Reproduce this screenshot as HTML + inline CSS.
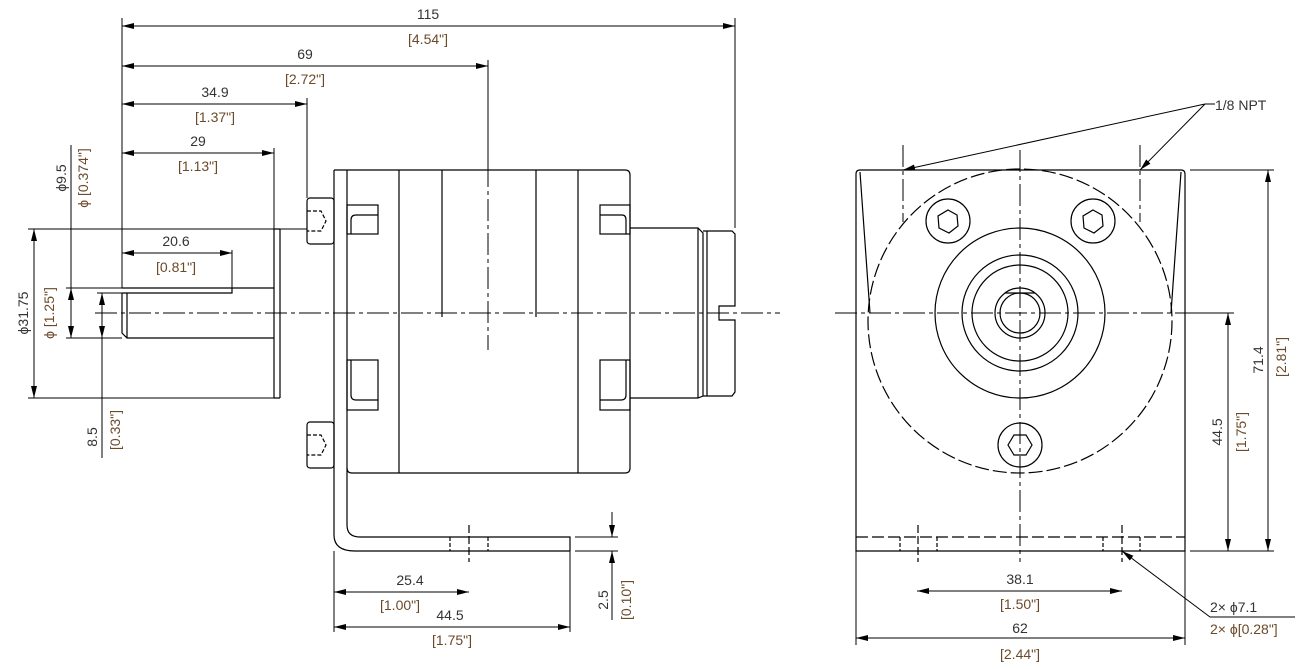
<!DOCTYPE html>
<html><head><style>
html,body{margin:0;padding:0;background:#fff;}
svg{display:block;}
text{font-family:"Liberation Sans",sans-serif;font-size:14px;fill:#333;}
.b{fill:#6b4a2a;}
</style></head><body>
<svg width="1313" height="669" viewBox="0 0 1313 669" xmlns="http://www.w3.org/2000/svg">
<defs>
<marker id="a" viewBox="0 0 12 6" refX="12" refY="3" markerWidth="12" markerHeight="6" orient="auto-start-reverse" markerUnits="userSpaceOnUse"><path d="M0,0 L12,3 L0,6z" fill="#000"/></marker>
</defs>
<g fill="none" stroke="#000" stroke-width="1.2">
<!-- center lines -->
<g stroke-dasharray="22,4,4,4" stroke-width="1">
<line x1="95" y1="313" x2="780" y2="313"/>
<line x1="488" y1="165" x2="488" y2="350"/>
<line x1="835" y1="313" x2="1205" y2="313"/>
<line x1="1020" y1="150" x2="1020" y2="562"/>
<line x1="903" y1="145" x2="903" y2="222"/>
<line x1="1140" y1="145" x2="1140" y2="222"/>
</g>
<!-- shaft + flange -->
<path d="M274,229 L274,398 M280,229 L280,398 M274,229 L280,229 M274,398 L280,398"/>
<path d="M122,293 L122,333 L127,338 L274,338 M122,288 L274,288 M127,293 L127,338"/>
<path d="M122,293 L232,293 L232,288"/>
<!-- screws -->
<rect x="307" y="198" width="27" height="46" rx="3"/>
<rect x="307" y="422" width="27" height="46" rx="3"/>
<path d="M307,211 h14 l5,10 l-5,10 h-14" stroke-dasharray="4,2"/>
<path d="M307,435 h14 l5,10 l-5,10 h-14" stroke-dasharray="4,2"/>
<!-- plate / bracket -->
<path d="M334,170 L347,170 M334,170 L334,535 Q334,551 355,551 L570,551"/>
<path d="M347,170 L347,525 Q347,537 360,537 L570,537 L570,551"/>
<line x1="450" y1="537" x2="450" y2="551" stroke-dasharray="4,2"/>
<line x1="488" y1="537" x2="488" y2="551" stroke-dasharray="4,2"/>
<line x1="469" y1="525" x2="469" y2="562" stroke-dasharray="8,3"/>
<!-- body -->
<path d="M347,170 L625,170 Q630,170 630,175 L630,468 Q630,473 625,473 L352,473 Q347,473 347,468"/>
<line x1="399" y1="170" x2="399" y2="473"/>
<line x1="442" y1="170" x2="442" y2="317"/>
<line x1="536" y1="170" x2="536" y2="317"/>
<line x1="578" y1="170" x2="578" y2="473"/>
<!-- pockets -->
<rect x="347" y="205" width="31" height="29"/>
<path d="M347,215 h-0 M351,234 V220 Q351,215 356,215 H378"/>
<rect x="347" y="360" width="31" height="50"/>
<path d="M351,360 V395 Q351,400 356,400 H378"/>
<rect x="600" y="205" width="30" height="29"/>
<path d="M600,215 H622 Q626,215 626,220 V234"/>
<rect x="600" y="360" width="30" height="50"/>
<path d="M626,360 V395 Q626,400 621,400 H600"/>
<!-- nozzle -->
<path d="M630,228 H698 L703,233 V396 L698,398 H630 M698,228 V398"/>
<path d="M703,231 H732 L735,234 V306 H719 V320 H735 V392 L732,396 H703 M707,231 V396"/>
<!-- right view -->
<path d="M856,551 V174 Q856,170 860,170 H1181 Q1185,170 1185,174 V551 Z"/>
<line x1="856" y1="537" x2="1185" y2="537" stroke-dasharray="12,4"/>
<g stroke-dasharray="4,2"><line x1="900" y1="537" x2="900" y2="551"/><line x1="937" y1="537" x2="937" y2="551"/><line x1="1103" y1="537" x2="1103" y2="551"/><line x1="1140" y1="537" x2="1140" y2="551"/></g>
<line x1="918" y1="525" x2="918" y2="562" stroke-dasharray="8,3"/>
<line x1="1122" y1="525" x2="1122" y2="562" stroke-dasharray="8,3"/>
<ellipse cx="1020" cy="321" rx="152" ry="152" stroke-dasharray="14,4"/>
<path d="M860,172 L870,313 M1181,172 L1171,313"/>
<circle cx="1020" cy="313" r="85"/>
<circle cx="1020" cy="313" r="58"/>
<circle cx="1020" cy="313" r="48"/>
<circle cx="1020" cy="313" r="25"/>
<circle cx="1020" cy="313" r="20"/>
<line x1="1005" y1="293" x2="1035" y2="293"/>
<circle cx="948" cy="221" r="22"/><circle cx="1093" cy="221" r="22"/><circle cx="1020" cy="445" r="22"/>
<polygon points="948,210 957,215 958,226 949,233 939,228 938,216"/>
<polygon points="1093,210 1102,215 1103,226 1094,233 1084,228 1083,216"/>
<polygon points="1014,435 1026,435 1032,445 1026,455 1014,455 1008,445"/>
</g>
<!-- dimensions -->
<g fill="none" stroke="#000" stroke-width="1">
<line x1="122" y1="18" x2="122" y2="288"/>
<line x1="735" y1="18" x2="735" y2="228"/>
<line x1="122" y1="26" x2="735" y2="26" marker-start="url(#a)" marker-end="url(#a)"/>
<line x1="488" y1="60" x2="488" y2="165"/>
<line x1="122" y1="66" x2="488" y2="66" marker-start="url(#a)" marker-end="url(#a)"/>
<line x1="307" y1="98" x2="307" y2="198"/>
<line x1="122" y1="104" x2="307" y2="104" marker-start="url(#a)" marker-end="url(#a)"/>
<line x1="274" y1="148" x2="274" y2="229"/>
<line x1="122" y1="153" x2="274" y2="153" marker-start="url(#a)" marker-end="url(#a)"/>
<line x1="232" y1="250" x2="232" y2="288"/>
<line x1="122" y1="253" x2="232" y2="253" marker-start="url(#a)" marker-end="url(#a)"/>
<line x1="28" y1="229" x2="307" y2="229"/>
<line x1="28" y1="398" x2="274" y2="398"/>
<line x1="34" y1="229" x2="34" y2="398" marker-start="url(#a)" marker-end="url(#a)"/>
<line x1="71" y1="145" x2="71" y2="338"/>
<line x1="66" y1="288" x2="122" y2="288"/>
<line x1="66" y1="338" x2="122" y2="338"/>
<line x1="71" y1="288" x2="71" y2="338" marker-start="url(#a)" marker-end="url(#a)"/>
<line x1="97" y1="293" x2="122" y2="293"/>
<line x1="102" y1="293" x2="102" y2="338" marker-start="url(#a)" marker-end="url(#a)"/>
<line x1="102" y1="338" x2="102" y2="458"/>
<line x1="334" y1="551" x2="334" y2="632"/>
<line x1="570" y1="551" x2="570" y2="632"/>
<line x1="334" y1="592" x2="469" y2="592" marker-start="url(#a)" marker-end="url(#a)"/>
<line x1="334" y1="627" x2="570" y2="627" marker-start="url(#a)" marker-end="url(#a)"/>
<line x1="575" y1="537" x2="618" y2="537"/>
<line x1="575" y1="551" x2="618" y2="551"/>
<line x1="612" y1="512" x2="612" y2="537" marker-end="url(#a)"/>
<line x1="612" y1="576" x2="612" y2="551" marker-end="url(#a)"/>
<line x1="612" y1="551" x2="612" y2="620"/>
<line x1="917" y1="591" x2="1122" y2="591" marker-start="url(#a)" marker-end="url(#a)"/>
<line x1="856" y1="551" x2="856" y2="645"/>
<line x1="1185" y1="551" x2="1185" y2="645"/>
<line x1="856" y1="638" x2="1185" y2="638" marker-start="url(#a)" marker-end="url(#a)"/>
<line x1="1190" y1="170" x2="1274" y2="170"/>
<line x1="1190" y1="551" x2="1274" y2="551"/>
<line x1="1268" y1="170" x2="1268" y2="551" marker-start="url(#a)" marker-end="url(#a)"/>
<line x1="1175" y1="313" x2="1234" y2="313"/>
<line x1="1228" y1="313" x2="1228" y2="551" marker-start="url(#a)" marker-end="url(#a)"/>
<line x1="1205" y1="104" x2="903" y2="170" marker-end="url(#a)"/>
<line x1="1205" y1="104" x2="1140" y2="170" marker-end="url(#a)"/>
<line x1="1205" y1="104" x2="1215" y2="104"/>
<line x1="1210" y1="617" x2="1122" y2="551" marker-end="url(#a)"/>
<line x1="1210" y1="617" x2="1295" y2="617"/>
<line x1="102" y1="428" x2="102" y2="458"/>
</g>
<g text-anchor="middle">
<text x="428" y="19">115</text><text x="428" y="44" class="b">[4.54"]</text>
<text x="305" y="59">69</text><text x="305" y="84" class="b">[2.72"]</text>
<text x="215" y="97">34.9</text><text x="215" y="122" class="b">[1.37"]</text>
<text x="198" y="146">29</text><text x="198" y="171" class="b">[1.13"]</text>
<text x="176" y="246">20.6</text><text x="176" y="272" class="b">[0.81"]</text>
<text x="410" y="585">25.4</text><text x="400" y="610" class="b">[1.00"]</text>
<text x="450" y="620">44.5</text><text x="452" y="645" class="b">[1.75"]</text>
<text x="1020" y="584">38.1</text><text x="1020" y="609" class="b">[1.50"]</text>
<text x="1020" y="633">62</text><text x="1020" y="659" class="b">[2.44"]</text>
</g>
<text x="1215" y="110">1/8 NPT</text>
<text x="1210" y="612">2× ϕ7.1</text>
<text x="1210" y="634" class="b">2× ϕ[0.28"]</text>
<g text-anchor="middle">
<text transform="translate(66,178) rotate(-90)">ϕ9.5</text>
<text transform="translate(88,178) rotate(-90)" class="b">ϕ [0.374"]</text>
<text transform="translate(28,313) rotate(-90)">ϕ31.75</text>
<text transform="translate(54,313) rotate(-90)" class="b">ϕ [1.25"]</text>
<text transform="translate(97,437) rotate(-90)">8.5</text>
<text transform="translate(120,430) rotate(-90)" class="b">[0.33"]</text>
<text transform="translate(608,600) rotate(-90)">2.5</text>
<text transform="translate(631,600) rotate(-90)" class="b">[0.10"]</text>
<text transform="translate(1263,360) rotate(-90)">71.4</text>
<text transform="translate(1286,357) rotate(-90)" class="b">[2.81"]</text>
<text transform="translate(1222,432) rotate(-90)">44.5</text>
<text transform="translate(1246,432) rotate(-90)" class="b">[1.75"]</text>
</g>
</svg>
</body></html>
